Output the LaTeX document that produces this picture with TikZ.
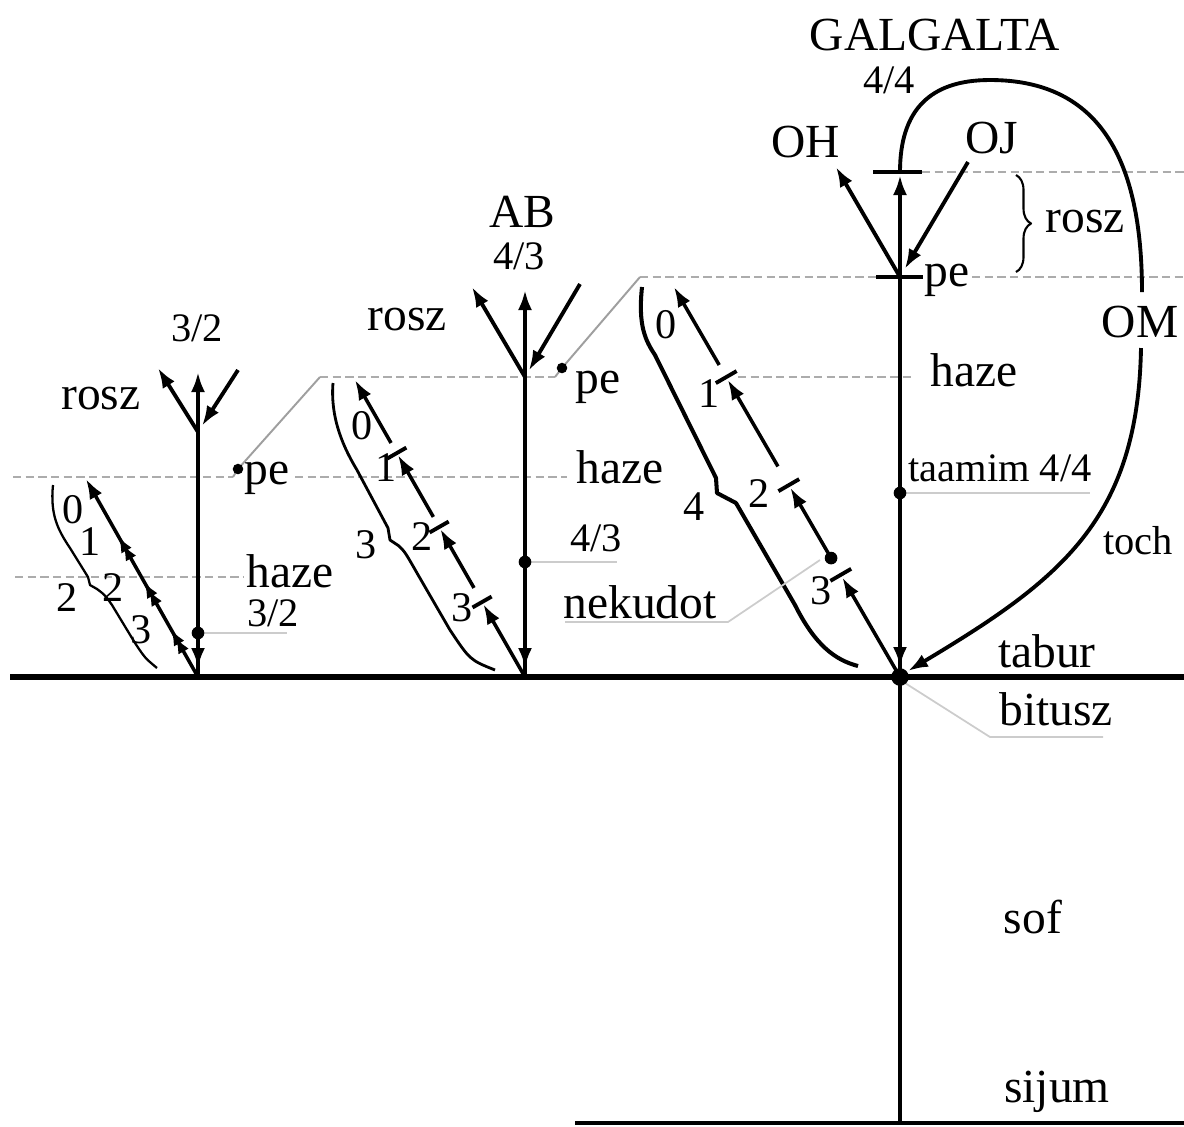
\documentclass[tikz,border=0pt]{standalone}
\usepackage{fontspec}
\setmainfont{Liberation Serif}
\usetikzlibrary{arrows.meta, calc, decorations.markings, decorations.pathreplacing}
\tikzset{
    % Lines
    tabln/.style={line width=1.5pt, black},
    axisln/.style={line width=1.1pt, black},
    chainln/.style={line width=1pt, black},
    bracln/.style={line width=0.8pt, black, line join=round},
    lvlln/.style={gray!65, line width=0.75pt, dash pattern=on 2.4pt off 1.2pt},
    peln/.style={gray!75, line width=0.55pt},
    leadln/.style={gray!40, line width=0.5pt},
    % Arrows
    uarrow/.style={-{Latex[length=2mm, width=1.4mm]}},
    % Labels
    lbl/.style={font=\fontsize{13.5}{15}\selectfont, inner sep=0pt},
    num/.style={font=\fontsize{11.5}{13}\selectfont, inner sep=0pt},
    dig/.style={font=\fontsize{12}{13}\selectfont, inner sep=0pt},
    dotpt/.style={circle, fill=black, inner sep=0pt, minimum size=#1},
    dotpt/.default=3.6pt,
}
\begin{document}
\begin{tikzpicture}[x=0.01cm, y=-0.01cm]
\useasboundingbox (0,0) rectangle (1184,1126);

% Galgalta
\coordinate (g0)   at (900,677);
\coordinate (gbot) at (900,1123);
\coordinate (gtop) at (900,172);
\coordinate (gpe)  at (900,277);
\coordinate (goh)  at (836,167);
\coordinate (goj)  at (968,162);
\coordinate (gch)  at (674,287);
\coordinate (gdot) at (900,493);
% AB
\coordinate (a0)   at (525,677);
\coordinate (atop) at (525,290);
\coordinate (av)   at (525,377);
\coordinate (aoh)  at (472,287);
\coordinate (aoj)  at (580,284);
\coordinate (ach)  at (355,380);
\coordinate (adot) at (525,562);
% 3/2
\coordinate (s0)   at (198,677);
\coordinate (stop) at (198,372);
\coordinate (sv)   at (198,432);
\coordinate (soh)  at (158,368);
\coordinate (soj)  at (238,370);
\coordinate (sch)  at (86,479);
\coordinate (sdot) at (198,633);

% levels
\coordinate (taburl) at (10,677);
\coordinate (taburr) at (1184,677);
\coordinate (sijl)   at (575,1123);
\coordinate (sijr)   at (1184,1123);
\draw[tabln] (taburl) -- (taburr);
\draw[axisln] (sijl) -- (sijr);

\draw[lvlln] (922,172) -- (1184,172);
\draw[lvlln] (640,277) -- (876,277);
\draw[lvlln] (972,277) -- (1184,277);
\draw[lvlln] (320,377) -- (555,377);
\draw[lvlln] (738,377) -- (915,377);
\draw[lvlln] (13,477) -- (233,477);
\draw[lvlln] (295,477) -- (567,477);
\draw[lvlln] (15,577) -- (243,577);

\coordinate (gcorner) at (640,277);
\coordinate (acorner) at (320,377);
\coordinate (gpeend)  at (562,368);
\coordinate (apeend)  at (238,469);
\draw[peln] (gcorner) -- (gpeend) -- (555,377);
\draw[peln] (acorner) -- (apeend) -- (233,477);
\node[dotpt=3pt] (gpedot) at (gpeend) {};
\node[dotpt=3pt] (apedot) at (apeend) {};

% Galgalta body
\draw[axisln] (gbot) -- (g0);
\draw[axisln, uarrow] (g0) -- (900,175);
\draw[axisln, uarrow] (900,610) -- (900,667);
\draw[axisln] (873,172) -- (922,172);
\draw[axisln] (876,277) -- (923,277);
\draw[axisln, uarrow] (gpe) -- (goh);
\draw[axisln, uarrow] (goj) -- ($(goj)!0.93!(gpe)$);

\draw[axisln] (gtop) .. controls (900,110) and (930,80) .. (990,80)
    .. controls (1100,80) and (1142,160) .. (1142,292);
\draw[axisln, uarrow] (1141,348) .. controls (1138,520) and (1060,580) .. (908,671);

\draw[bracln, line width=0.6pt, decorate, decoration={brace, amplitude=1.5mm}] (1016,175) -- (1016,272);

\foreach \a/\b in {0/0.255, 0.305/0.485, 0.54/0.762, 0.80/1}
    \draw[chainln, uarrow] ($(g0)!\a!(gch)$) -- ($(g0)!\b!(gch)$);
\foreach \t in {0.262, 0.492, 0.769} {
    \coordinate (tk) at ($(g0)!\t!(gch)$);
    \draw[axisln] ($(tk)!1.2mm!90:(gch)$) -- ($(tk)!1.2mm!-90:(gch)$);
}
\draw[bracln, line width=1.15pt] (642,287) .. controls (638,325) and (645,340) .. (655,355)
    -- (716,478) -- (717,493) -- (736,503) -- (795,605)
    .. controls (815,645) and (835,660) .. (858,666);

% AB body
\draw[axisln, uarrow] (a0) -- (atop);
\draw[axisln, uarrow] (525,610) -- (525,668);
\draw[axisln, uarrow] (av) -- (aoh);
\draw[axisln, uarrow] (aoj) -- ($(aoj)!0.93!(av)$);
\foreach \a/\b in {0/0.245, 0.30/0.498, 0.539/0.747, 0.788/1}
    \draw[chainln, uarrow] ($(a0)!\a!(ach)$) -- ($(a0)!\b!(ach)$);
\foreach \t in {0.2525, 0.505, 0.754} {
    \coordinate (tk) at ($(a0)!\t!(ach)$);
    \draw[axisln] ($(tk)!1.1mm!90:(ach)$) -- ($(tk)!1.1mm!-90:(ach)$);
}
\draw[bracln] (333,383) .. controls (330,420) and (345,450) .. (357,470)
    -- (388,528) -- (390,540) -- (399,546) .. controls (405,552) .. (417,573)
    -- (450,630) .. controls (470,660) .. (495,670);

% 3/2 body
\draw[axisln, uarrow] (s0) -- (stop);
\draw[axisln, uarrow] (198,628) -- (198,668);
\draw[axisln, uarrow] (sv) -- (soh);
\draw[axisln, uarrow] (soj) -- ($(soj)!0.9!(sv)$);
\draw[chainln, uarrow, postaction=decorate, decoration={markings,
    mark=at position 0.20 with {\arrow{Latex[length=1.6mm, width=1.2mm]}},
    mark=at position 0.24 with {\arrow{Latex[length=1.6mm, width=1.2mm]}},
    mark=at position 0.44 with {\arrow{Latex[length=1.6mm, width=1.2mm]}},
    mark=at position 0.48 with {\arrow{Latex[length=1.6mm, width=1.2mm]}},
    mark=at position 0.67 with {\arrow{Latex[length=1.6mm, width=1.2mm]}},
    mark=at position 0.71 with {\arrow{Latex[length=1.6mm, width=1.2mm]}}}] (s0) -- (sch);
\draw[bracln, line width=0.65pt] (53,485) .. controls (50,515) and (58,530) .. (70,548)
    -- (88,577) -- (90,585) -- (97,589) .. controls (105,595) .. (112,605)
    -- (135,643) .. controls (145,658) .. (157,668);

% leaders
\draw[leadln] (sdot) -- (287,633);
\draw[leadln] (adot) -- (617,562);
\draw[leadln] (gdot) -- (1090,493);
\draw[leadln] (565,622) -- (728,622) -- (820,560);
\draw[leadln] (905,683) -- (990,737) -- (1103,737);

% dots
\node[dotpt] (sdotn) at (sdot) {};
\node[dotpt] (adotn) at (adot) {};
\node[dotpt] (gdotn) at (gdot) {};
\node[dotpt] (gnek) at ($(g0)!0.305!(gch)$) {};
\node[dotpt=5pt] (taburdot) at (g0) {};

% labels
\node[lbl] (galgalta) at (935,35)   {GALGALTA};
\node[num] (gfrac)    at (889,80)   {4/4};
\node[lbl] (ohl)      at (806,142)  {OH};
\node[lbl] (ojl)      at (992,138)  {OJ};
\node[lbl] (grosz)    at (1085,222) {rosz};
\node[lbl] (gpel)     at (947,280)  {pe};
\node[lbl] (oml)      at (1140,322) {OM};
\node[lbl] (ghaze)    at (974,370)  {haze};
\node[num] (taamim)   at (1000,468) {taamim 4/4};
\node[num] (toch)     at (1138,541) {toch};
\node[lbl] (tabur)    at (1047,651) {tabur};
\node[lbl] (bitusz)   at (1056,709) {bitusz};
\node[lbl] (sof)      at (1033,917) {sof};
\node[lbl] (sijum)    at (1057,1092) {sijum};
\node[lbl] (nekudot)  at (640,602)  {nekudot};
\node[dig] (g0l) at (666,325) {0};
\node[dig] (g1l) at (709,394) {1};
\node[dig] (g2l) at (759,494) {2};
\node[dig] (g3l) at (821,591) {3};
\node[dig] (g4l) at (694,507) {4};

\node[lbl] (abl)    at (522,212) {AB};
\node[num] (afrac)  at (519,256) {4/3};
\node[lbl] (arosz)  at (407,320) {rosz};
\node[lbl] (apel)   at (598,387) {pe};
\node[lbl] (ahaze)  at (620,467) {haze};
\node[num] (afrac2) at (596,538) {4/3};
\node[dig] (a0l) at (362,426) {0};
\node[dig] (a1l) at (386,468) {1};
\node[dig] (a2l) at (422,537) {2};
\node[dig] (a3l) at (462,608) {3};
\node[dig] (a4l) at (366,545) {3};

\node[num] (sfrac)  at (197,328) {3/2};
\node[lbl] (srosz)  at (101,399) {rosz};
\node[lbl] (spel)   at (267,478) {pe};
\node[lbl] (shaze)  at (290,571) {haze};
\node[num] (sfrac2) at (273,613) {3/2};
\node[dig] (s0l) at (73,510)  {0};
\node[dig] (s1l) at (90,542)  {1};
\node[dig] (s2l) at (113,588) {2};
\node[dig] (s3l) at (141,630) {3};
\node[dig] (s4l) at (67,598)  {2};
\end{tikzpicture}
\end{document}
